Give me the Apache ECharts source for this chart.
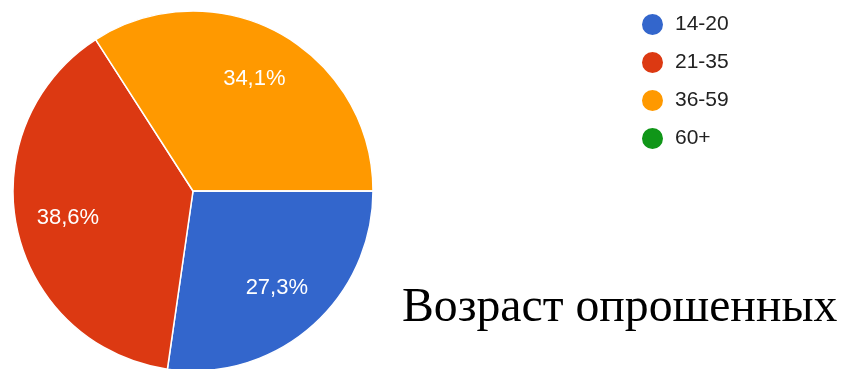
<!DOCTYPE html>
<html>
<head>
<meta charset="utf-8">
<style>
  html, body { margin: 0; padding: 0; background: #ffffff; }
  #chart { width: 846px; height: 369px; }
</style>
<script src="https://cdn.jsdelivr.net/npm/echarts@6/dist/echarts.min.js"></script>
</head>
<body>
<div id="chart"></div>
<script>
// Age groups of respondents and number of answers per group
const categories = ['14-20', '21-35', '36-59', '60+'];
const counts = [12, 17, 15, 0];
const colors = ['#3366cc', '#dc3912', '#ff9900', '#109618'];
const titleText = 'Возраст опрошенных';

const pieData = categories.map((name, i) => ({ name: name, value: counts[i] }));

// Percent labels written with a decimal comma, e.g. 27,3%
function percentLabel(p) {
  if (!p.value) return '';
  return p.percent.toFixed(1).replace('.', ',') + '%';
}

const chart = echarts.init(document.getElementById('chart'), null, { renderer: 'canvas' });
chart.setOption({
  animation: false,
  color: colors,
  title: {
    text: titleText,
    left: 402,
    top: 284,
    padding: 0,
    textStyle: {
      fontFamily: '"Liberation Serif", "Times New Roman", serif',
      fontSize: 47.7,
      fontWeight: 'normal',
      color: '#000000'
    }
  },
  legend: {
    orient: 'vertical',
    left: 640,
    top: 12,
    padding: 0,
    icon: 'circle',
    itemWidth: 23,
    itemHeight: 23,
    itemGap: 13,
    selectedMode: false,
    data: categories,
    textStyle: {
      fontFamily: 'Arial, "Liberation Sans", sans-serif',
      fontSize: 21,
      color: '#222222',
      padding: [0, 0, 0, 6]
    }
  },
  series: [
    {
      name: 'slices',
      type: 'pie',
      center: [193, 191],
      radius: [0, 180],
      startAngle: 0,
      clockwise: true,
      silent: true,
      label: { show: false },
      labelLine: { show: false },
      itemStyle: { borderColor: '#ffffff', borderWidth: 1.5 },
      data: pieData
    },
    {
      // transparent ring carrying the percent labels further out from the centre
      name: 'labels',
      type: 'pie',
      center: [193, 191],
      radius: [70, 180],
      startAngle: 0,
      clockwise: true,
      silent: true,
      itemStyle: { color: 'rgba(0,0,0,0)', borderWidth: 0 },
      emphasis: { disabled: true },
      label: {
        show: true,
        position: 'inside',
        formatter: percentLabel,
        color: '#ffffff',
        fontFamily: 'Arial, "Liberation Sans", sans-serif',
        fontSize: 22,
        fontWeight: 'normal'
      },
      labelLine: { show: false },
      data: pieData
    }
  ]
});
</script>
</body>
</html>
